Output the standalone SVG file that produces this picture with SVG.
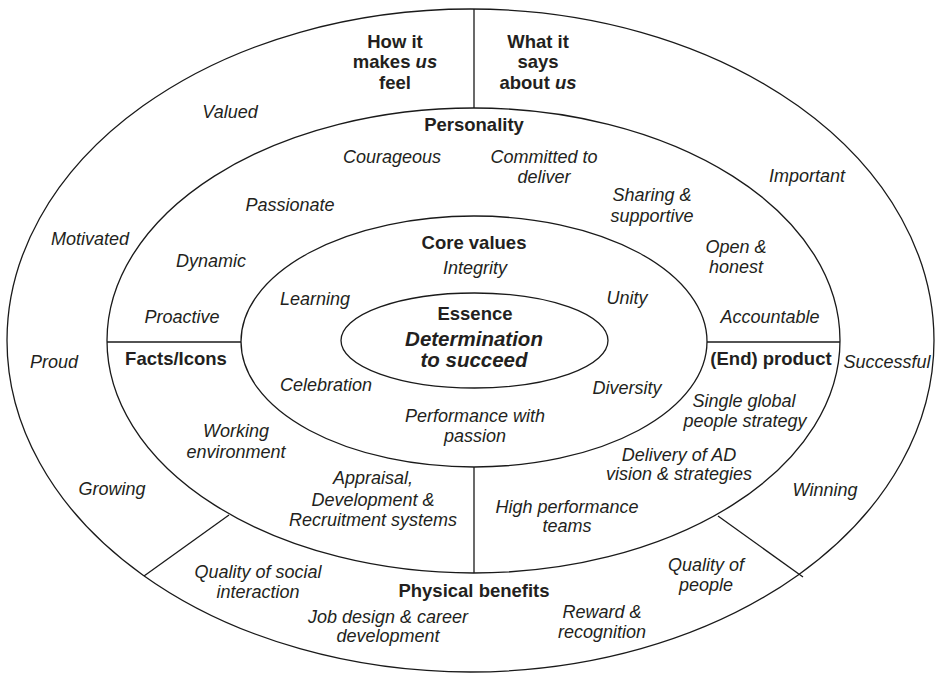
<svg xmlns="http://www.w3.org/2000/svg" width="935" height="673" viewBox="0 0 935 673">
<style>
.ring{fill:none;stroke:#1a1a1a;stroke-width:1.3}
.ln{stroke:#1a1a1a;stroke-width:1.3;fill:none}
text{font-family:"Liberation Sans",Arial,sans-serif;fill:#231f20;text-anchor:middle}
.i{font-style:italic;font-size:18px}
.b{font-weight:bold;font-size:18.5px}
.bi{font-weight:bold;font-style:italic;font-size:20.5px}
</style>
<rect width="935" height="673" fill="#fff"/>
<g id="outer-ring">
<ellipse class="ring" cx="470.5" cy="340.5" rx="463.5" ry="331.5"/>
<text class="b" x="395" y="48">How it</text>
<text class="b" x="395" y="68">makes <tspan font-style="italic">us</tspan></text>
<text class="b" x="395" y="89">feel</text>
<text class="b" x="538" y="48">What it</text>
<text class="b" x="538" y="68">says</text>
<text class="b" x="538" y="89">about <tspan font-style="italic">us</tspan></text>
<text class="i" x="230" y="118">Valued</text>
<text class="i" x="807" y="182">Important</text>
<text class="i" x="90" y="245">Motivated</text>
<text class="i" x="54" y="368">Proud</text>
<text class="i" x="887" y="368">Successful</text>
<text class="i" x="112" y="495">Growing</text>
<text class="i" x="825" y="496">Winning</text>
<text class="i" x="258" y="578">Quality of social</text>
<text class="i" x="258" y="598">interaction</text>
<text class="b" x="474" y="597">Physical benefits</text>
<text class="i" x="388" y="623">Job design &amp; career</text>
<text class="i" x="388" y="642">development</text>
<text class="i" x="602" y="618">Reward &amp;</text>
<text class="i" x="602" y="638">recognition</text>
<text class="i" x="706" y="571">Quality of</text>
<text class="i" x="706" y="591">people</text>
</g>
<g id="middle-ring">
<ellipse class="ring" cx="473.5" cy="340.5" rx="366.5" ry="232.5"/>
<text class="b" x="474" y="131">Personality</text>
<text class="i" x="392" y="163">Courageous</text>
<text class="i" x="544" y="163">Committed to</text>
<text class="i" x="544" y="183">deliver</text>
<text class="i" x="652" y="201">Sharing &amp;</text>
<text class="i" x="652" y="222">supportive</text>
<text class="i" x="290" y="211">Passionate</text>
<text class="i" x="211" y="267">Dynamic</text>
<text class="i" x="736" y="253">Open &amp;</text>
<text class="i" x="736" y="273">honest</text>
<text class="i" x="182" y="323">Proactive</text>
<text class="i" x="770" y="323">Accountable</text>
<text class="b" x="176" y="365">Facts/Icons</text>
<text class="b" x="771" y="365">(End) product</text>
<text class="i" x="744" y="407">Single global</text>
<text class="i" x="745" y="427">people strategy</text>
<text class="i" x="236" y="437">Working</text>
<text class="i" x="236" y="458">environment</text>
<text class="i" x="679" y="461">Delivery of AD</text>
<text class="i" x="679" y="480">vision &amp; strategies</text>
<text class="i" x="373" y="484">Appraisal,</text>
<text class="i" x="373" y="506">Development &amp;</text>
<text class="i" x="373" y="526">Recruitment systems</text>
<text class="i" x="567" y="513">High performance</text>
<text class="i" x="567" y="532">teams</text>
</g>
<g id="core-values">
<ellipse class="ring" cx="474" cy="341.5" rx="233" ry="125.5"/>
<text class="b" x="474" y="249">Core values</text>
<text class="i" x="475" y="274">Integrity</text>
<text class="i" x="315" y="305">Learning</text>
<text class="i" x="627" y="304">Unity</text>
<text class="i" x="326" y="391">Celebration</text>
<text class="i" x="627" y="394">Diversity</text>
<text class="i" x="475" y="422">Performance with</text>
<text class="i" x="475" y="442">passion</text>
</g>
<g id="essence">
<ellipse class="ring" cx="474.5" cy="340.5" rx="133.5" ry="47.5"/>
<text class="b" x="475" y="320" font-size="19">Essence</text>
<text class="bi" x="474" y="346">Determination</text>
<text class="bi" x="474" y="367">to succeed</text>
</g>
<g id="connectors">
<line class="ln" x1="474" y1="9" x2="474" y2="108"/>
<line class="ln" x1="474" y1="467" x2="474" y2="573"/>
<line class="ln" x1="107" y1="342" x2="241" y2="342"/>
<line class="ln" x1="707" y1="342" x2="840" y2="342"/>
<line class="ln" x1="229" y1="515" x2="144" y2="576"/>
<line class="ln" x1="718" y1="516" x2="803" y2="577"/>
</g>
</svg>
